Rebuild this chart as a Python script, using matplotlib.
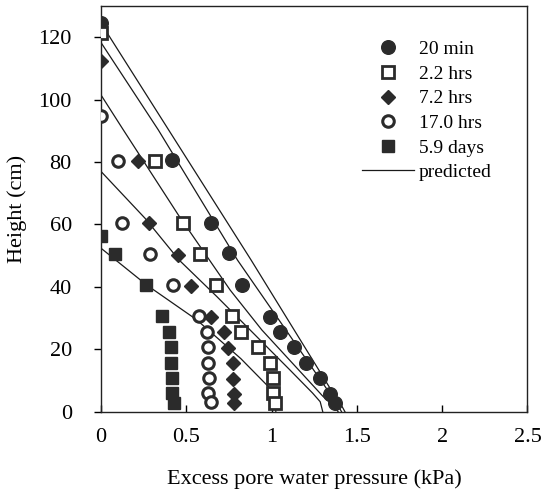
import matplotlib
matplotlib.use('Agg')
import matplotlib.pyplot as plt

plt.rcParams['font.family'] = ['Liberation Serif', 'DejaVu Serif']

# measured excess pore pressure (kPa) vs height (cm)
h_20min = [124.5, 80.5, 60.5, 50.8, 40.6, 30.4, 25.6, 20.6, 15.7, 10.7, 5.7, 2.9]
p_20min = [0.0, 0.415, 0.646, 0.753, 0.826, 0.99, 1.05, 1.13, 1.20, 1.285, 1.344, 1.373]

h_2h = [121.3, 80.4, 60.6, 50.5, 40.6, 30.7, 25.6, 20.6, 15.5, 10.7, 5.9, 2.9]
p_2h = [0.0, 0.317, 0.483, 0.581, 0.673, 0.767, 0.82, 0.923, 0.992, 1.008, 1.008, 1.02]

h_7h = [112.4, 80.4, 60.4, 50.2, 40.4, 30.5, 25.6, 20.3, 15.5, 10.5, 5.6, 2.7]
p_7h = [0.0, 0.219, 0.284, 0.454, 0.528, 0.646, 0.724, 0.743, 0.773, 0.773, 0.777, 0.777]

h_17h = [94.8, 80.4, 60.6, 50.5, 40.6, 30.7, 25.6, 20.6, 15.5, 10.7, 5.9, 3.2]
p_17h = [0.0, 0.102, 0.121, 0.288, 0.421, 0.577, 0.62, 0.63, 0.63, 0.636, 0.63, 0.644]

h_6d = [56.3, 50.5, 40.6, 30.7, 25.6, 20.6, 15.5, 10.7, 5.9, 2.9]
p_6d = [0.0, 0.082, 0.264, 0.356, 0.401, 0.409, 0.409, 0.415, 0.415, 0.428]

# predicted isochrones
pred_p = [
    [0.0, 0.88, 1.36, 1.41, 1.43],
    [0.0, 0.336, 0.80, 1.34, 1.395, 1.41],
    [0.0, 0.131, 0.454, 0.757, 0.943, 1.30, 1.37, 1.39],
    [0.0, 0.258, 0.458, 0.679, 0.874, 1.109, 1.24, 1.285, 1.30],
    [0.0, 0.268, 0.56, 0.82, 1.0, 1.02, 1.025],
]
pred_h = [
    [124.5, 48.6, 6.0, 2.0, 0.0],
    [118.3, 90.3, 48.6, 6.0, 1.5, 0.0],
    [101.5, 90.3, 63.0, 39.0, 26.2, 5.0, 1.5, 0.0],
    [77.0, 62.0, 48.6, 36.9, 26.2, 13.3, 6.0, 3.2, 0.0],
    [52.4, 40.6, 29.5, 17.0, 7.0, 3.0, 0.0],
]

labels = ['20 min', '2.2 hrs', '7.2 hrs', '17.0 hrs', '5.9 days']
xticks = [0, 0.5, 1, 1.5, 2, 2.5]
xticklabels = ['0', '0.5', '1', '1.5', '2', '2.5']
yticks = [0, 20, 40, 60, 80, 100, 120]

dark = '#2b2b2b'

fig = plt.figure(figsize=(5.42, 4.99), dpi=100)
ax = fig.add_axes([0.1863, 0.1749, 0.7869, 0.8131])

for ph, hh in zip(pred_p, pred_h):
    ax.plot(ph, hh, color='#1a1a1a', lw=0.9, zorder=2)

ax.plot(p_20min, h_20min, 'o', ms=9.8, mfc=dark, mec=dark, mew=1, ls='none', zorder=3, label=labels[0])
ax.plot(p_2h, h_2h, 's', ms=8.6, mfc='white', mec=dark, mew=2.0, ls='none', zorder=3, label=labels[1])
ax.plot(p_7h, h_7h, 'D', ms=7.6, mfc=dark, mec=dark, mew=1, ls='none', zorder=3, label=labels[2])
ax.plot(p_17h, h_17h, 'o', ms=8.3, mfc='white', mec=dark, mew=2.2, ls='none', zorder=3, label=labels[3])
ax.plot(p_6d, h_6d, 's', ms=8.8, mfc=dark, mec=dark, mew=1, ls='none', zorder=3, label=labels[4])
ax.plot([], [], color='#1a1a1a', lw=0.9, label='predicted')

ax.set_xlim(0, 2.5)
ax.set_ylim(0, 130)
ax.set_xticks(xticks)
ax.set_xticklabels(xticklabels)
ax.set_yticks(yticks)
ax.tick_params(axis='x', direction='in', length=5, width=1, pad=12, labelsize=16)
ax.tick_params(axis='y', direction='out', length=5, width=1, pad=16, labelsize=16)
for s in ax.spines.values():
    s.set_linewidth(1.0)
    s.set_color('#222222')

ax.set_xlabel('Excess pore water pressure (kPa)', fontsize=16, labelpad=16)
ax.set_ylabel('Height (cm)', fontsize=16, labelpad=8)

ax.legend(loc='upper left', bbox_to_anchor=(0.611, 0.915), frameon=False,
          fontsize=14, handlelength=2.7, handletextpad=0.25, labelspacing=0.36,
          borderpad=0, borderaxespad=0)

fig.savefig('out.png', dpi=100, facecolor='white')
